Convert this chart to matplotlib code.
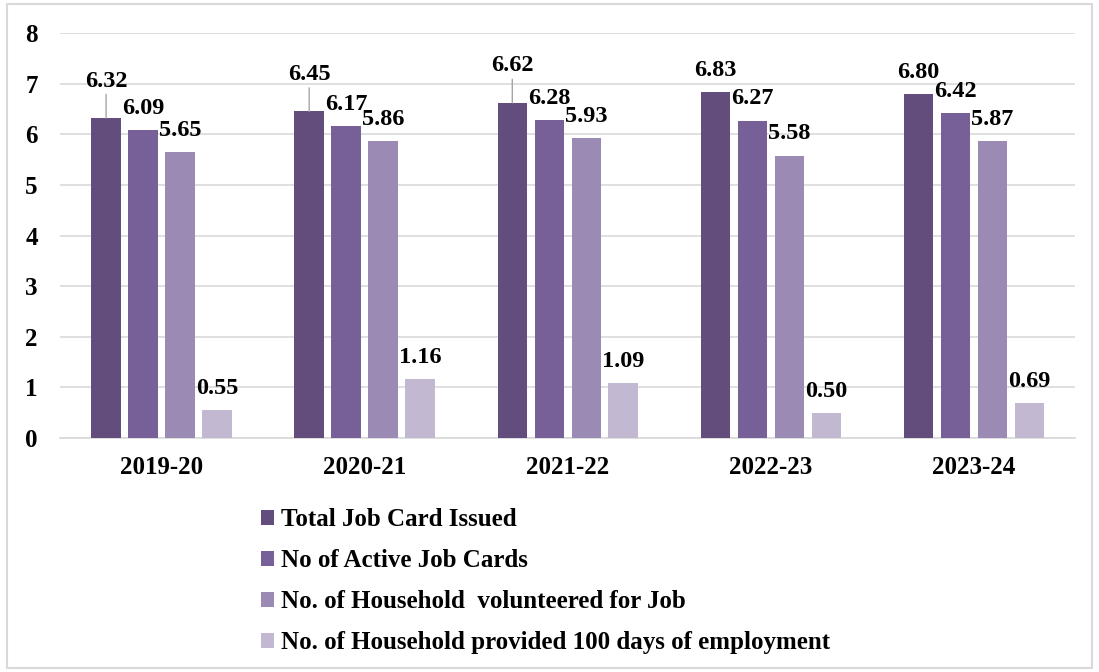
import matplotlib.pyplot as plt
import numpy as np
from matplotlib.patches import Rectangle

plt.rcParams['font.family'] = ['Liberation Serif', 'DejaVu Serif']
plt.rcParams['font.weight'] = 'bold'

years = ['2019-20', '2020-21', '2021-22', '2022-23', '2023-24']
total_issued = [6.32, 6.45, 6.62, 6.83, 6.80]
active_cards = [6.09, 6.17, 6.28, 6.27, 6.42]
volunteered = [5.65, 5.86, 5.93, 5.58, 5.87]
provided_100 = [0.55, 1.16, 1.09, 0.50, 0.69]

names = ['Total Job Card Issued', 'No of Active Job Cards',
         'No. of Household  volunteered for Job',
         'No. of Household provided 100 days of employment']
colors = ['#634d7d', '#775f97', '#9b8ab3', '#c3b8d1']
series = [total_issued, active_cards, volunteered, provided_100]

fig = plt.figure(figsize=(10.99, 6.72), dpi=100)
ax = fig.add_axes([0.0546, 0.348, 0.924, 0.603])

x = np.arange(len(years))
width = 0.145
step = 0.182
for i, (vals, c, n) in enumerate(zip(series, colors, names)):
    pos = x + (i - 1.5) * step
    ax.bar(pos, vals, width, color=c, label=n, zorder=3)
    for j, (p, v) in enumerate(zip(pos, vals)):
        if i == 0 and j < 3:
            # raised label with leader line
            ax.annotate(f'{v:.2f}', xy=(p, v), xytext=(0, 19), textcoords='offset points',
                        ha='center', va='bottom', fontsize=17.5, fontweight='bold',
                        arrowprops=dict(arrowstyle='-', color='#a6a6a6', lw=1,
                                        shrinkA=0, shrinkB=0))
        else:
            ax.annotate(f'{v:.2f}', xy=(p, v), xytext=(0, 8), textcoords='offset points',
                        ha='center', va='bottom', fontsize=17.5, fontweight='bold')

ax.set_xlim(-0.5, 4.5)
ax.set_ylim(0, 8)
ax.set_yticks(range(0, 9))
ax.set_xticks(x)
ax.set_xticklabels(years, fontsize=18, fontweight='bold')
ax.tick_params(axis='y', labelsize=18, length=0, pad=16)
ax.tick_params(axis='x', length=0, pad=13)
ax.grid(axis='y', color='#d9d9d9', lw=1.2, zorder=0)
for s in ['top', 'right', 'left']:
    ax.spines[s].set_visible(False)
ax.spines['bottom'].set_color('#d9d9d9')
ax.spines['bottom'].set_linewidth(1.2)

fig.legend(loc='upper left', bbox_to_anchor=(0.228, 0.259), frameon=False,
           prop={'size': 18, 'weight': 'bold'}, handlelength=0.55, handleheight=0.55,
           handletextpad=0.25, labelspacing=0.72, borderaxespad=0)

fig.patches.append(Rectangle((0.006, 0.006), 0.988, 0.988, transform=fig.transFigure,
                             fill=False, edgecolor='#d9d9d9', lw=1.5))

fig.savefig('out.png', dpi=100)
